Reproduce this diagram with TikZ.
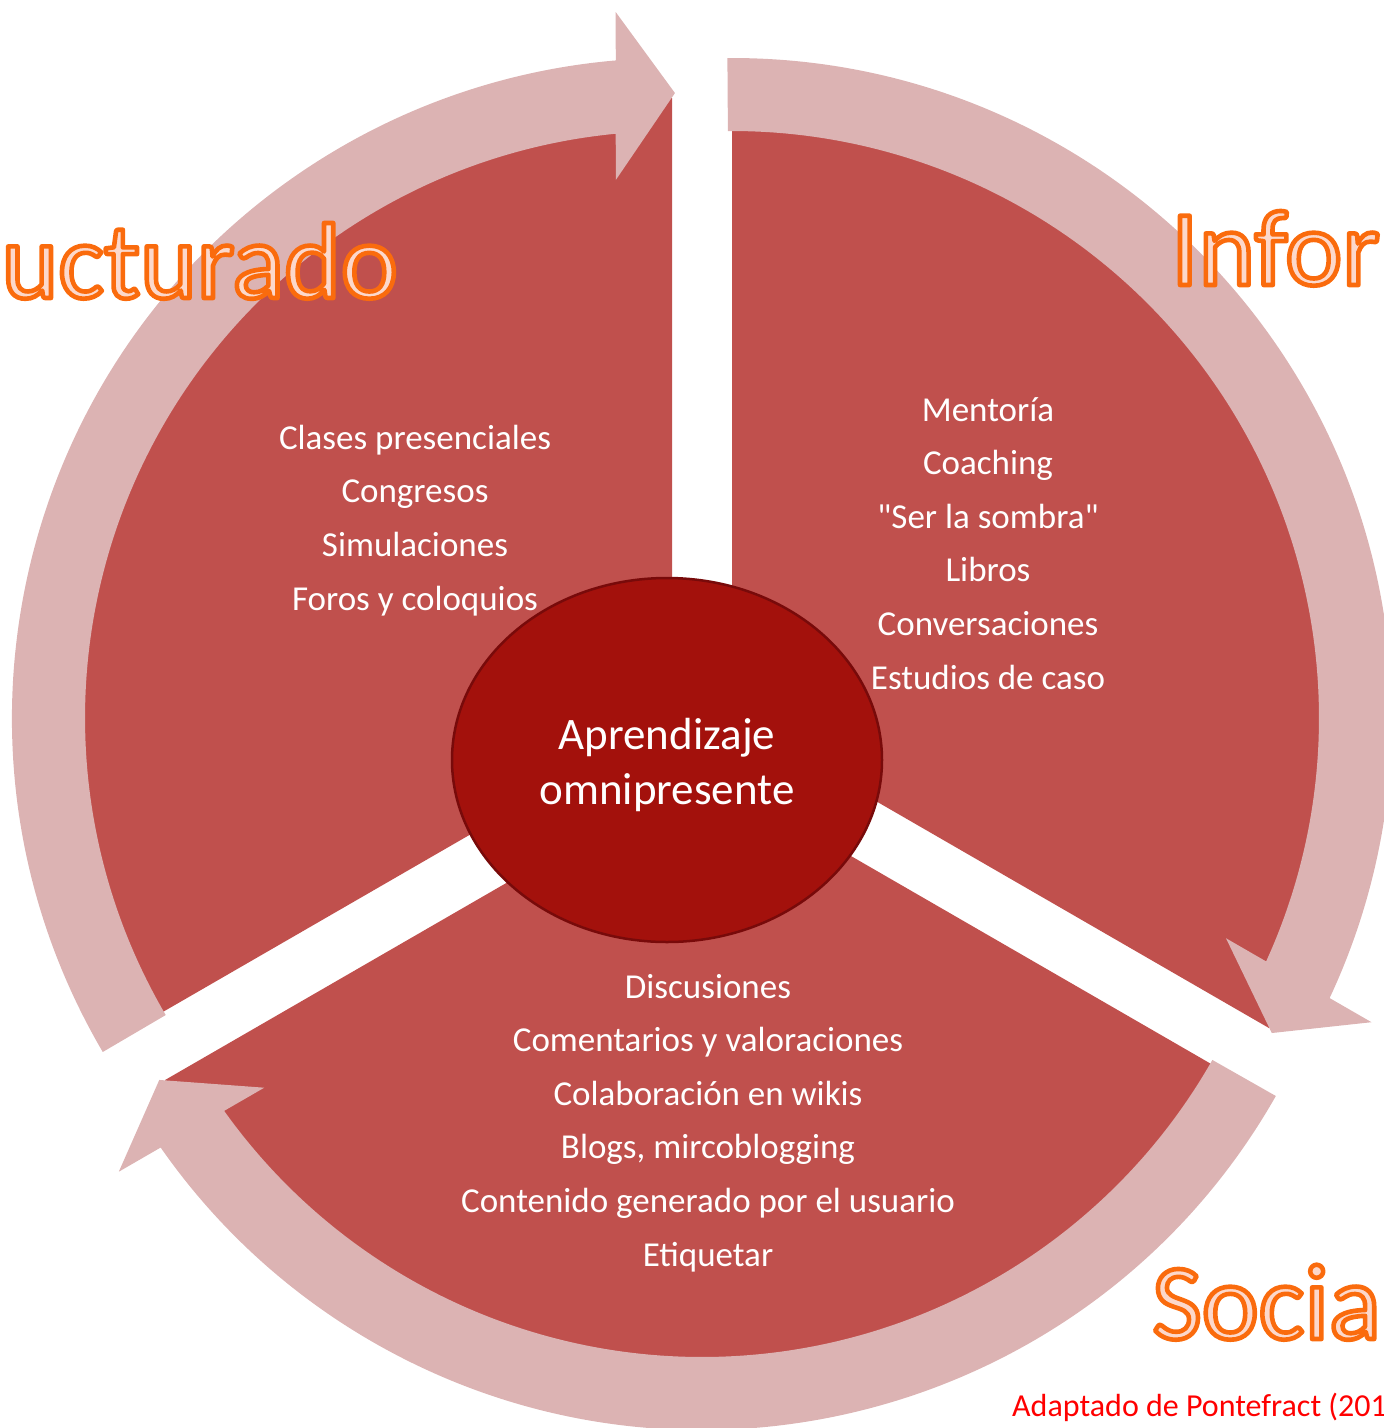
\documentclass[tikz,border=0pt]{standalone}
\usepackage{fontspec}
\setmainfont{Carlito}
\usetikzlibrary{shapes.geometric}
\definecolor{wedgered}{HTML}{C0504D}
\definecolor{ringpink}{HTML}{DCB3B3}
\definecolor{corered}{HTML}{A3110C}
\definecolor{coreline}{HTML}{780A0A}
\definecolor{artfill}{HTML}{FCD8CB}
\definecolor{citered}{HTML}{FF0000}
\newcommand\artstroke[1]{\special{pdf:literal direct 0.98 0.42 0.05 RG 4.6 w 1 j 2 Tr}#1\special{pdf:literal direct 0 Tr}}
\newcommand\ringarrow[3]{%
 \fill[ringpink,shift={(#1,#2)}] (149.6+#3:587) -- (149.6+#3:660)
   arc[start angle=149.6+#3, end angle=265.11+#3, radius=660]
   -- (265.44+#3:708.2) -- (270.27+#3:625) -- (264.03+#3:540.9) -- (264.50+#3:587)
   arc[start angle=264.50+#3, end angle=149.6+#3, radius=587] -- cycle;}
\begin{document}
\begin{tikzpicture}[x=1pt,y=-1pt,
  item/.style={text=white, font=\fontsize{35}{42}\selectfont, anchor=base, inner sep=0pt},
  art/.style={text=artfill, font=\fontsize{108}{112}\selectfont, inner sep=0pt}]
\useasboundingbox (0,0) rectangle (1384,1428);
\clip (0,0) rectangle (1384,1428);
% wedges
\fill[wedgered] (672,718) -- ++(150:620) arc[start angle=150,end angle=270,radius=620] -- cycle;
\fill[wedgered] (732,718) -- ++(270:620) arc[start angle=270,end angle=390,radius=620] -- cycle;
\fill[wedgered] (702,770) -- ++(30:620) arc[start angle=30,end angle=150,radius=620] -- cycle;
% ring arrows
\ringarrow{672}{718}{0}
\ringarrow{732}{718}{120}
\ringarrow{702}{770}{240}
% left texts
\node[item] (a1) at (415,449) {Clases presenciales};
\node[item] (a2) at (415,502.7) {Congresos};
\node[item] (a3) at (415,556.4) {Simulaciones};
\node[item] (a4) at (415,610.1) {Foros y coloquios};
% right texts
\node[item] (b1) at (988,421) {Mentoría};
\node[item] (b2) at (988,474.6) {Coaching};
\node[item] (b3) at (988,528.2) {\textquotedbl Ser la sombra\textquotedbl};
\node[item] (b4) at (988,581.8) {Libros};
\node[item] (b5) at (988,635.4) {Conversaciones};
\node[item] (b6) at (988,689) {Estudios de caso};
% bottom texts
\node[item] (c1) at (708,998) {Discusiones};
\node[item] (c2) at (708,1051.6) {Comentarios y valoraciones};
\node[item] (c3) at (708,1105.2) {Colaboración en wikis};
\node[item] (c4) at (708,1158.8) {Blogs, mircoblogging};
\node[item] (c5) at (708,1212.4) {Contenido generado por el usuario};
\node[item] (c6) at (708,1266) {Etiquetar};
% centre
\node[ellipse, fill=corered, draw=coreline, line width=2.5pt, minimum width=430pt, minimum height=364pt] (core) at (667,760) {};
\node[text=white, align=center, font=\fontsize{45}{55}\selectfont, inner sep=0pt] (coretext) at (667,765) {Aprendizaje\\omnipresente};
% big labels
\node[art, anchor=base east] (estr) at (398,298) {\artstroke{ucturado}};
\node[art, anchor=base west] (info) at (1171,285) {\artstroke{Infor}};
\node[art, anchor=base west] (soci) at (1152,1339) {\artstroke{Socia}};
% citation
\node[anchor=base west, text=citered, font=\fontsize{32}{36}\selectfont, inner sep=0pt] (cite) at (1012,1416) {Adaptado de Pontefract (201};
\end{tikzpicture}
\end{document}
